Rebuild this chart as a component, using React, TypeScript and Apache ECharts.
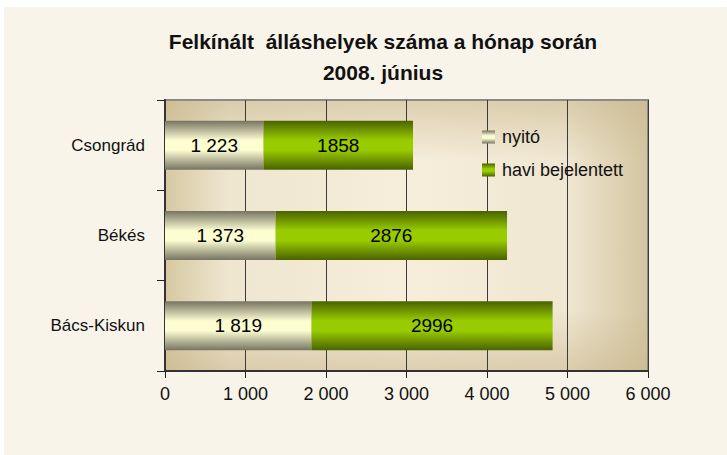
import React, { useEffect, useRef } from "react";
import * as echarts from "echarts";

const categories = ["Csongrád", "Békés", "Bács-Kiskun"];
const nyitoValues = [1223, 1373, 1819];
const haviValues = [1858, 2876, 2996];
const seriesNames = ["nyitó", "havi bejelentett"];
const titleLines = ["Felkínált  álláshelyek száma a hónap során", "2008. június"];
const xMin = 0;
const xMax = 6000;
const xInterval = 1000;

const FONT = "'Liberation Sans', Arial, sans-serif";

const W = 727;
const H = 455;
const GRID = { left: 165, top: 100, right: 79, bottom: 84 };

function spaced(v: number): string {
  return String(v).replace(/\B(?=(\d{3})+(?!\d))/g, " ");
}

export default function App() {
  const ref = useRef<HTMLDivElement>(null);
  useEffect(() => {
    if (!ref.current) return;
    const chart = echarts.init(ref.current, null, { renderer: "svg" });
    const gw = W - GRID.left - GRID.right;
    const gh = H - GRID.top - GRID.bottom;
    const grayGrad = new echarts.graphic.LinearGradient(0, 0, 0, 1, [
      { offset: 0, color: "#767462" },
      { offset: 0.4, color: "#fdfdd2" },
      { offset: 0.6, color: "#fdfdd2" },
      { offset: 1, color: "#767462" },
    ]);
    const greenGrad = new echarts.graphic.LinearGradient(0, 0, 0, 1, [
      { offset: 0, color: "#4a6200" },
      { offset: 0.4, color: "#99cc00" },
      { offset: 0.6, color: "#99cc00" },
      { offset: 1, color: "#4a6200" },
    ]);
    chart.setOption({
      animation: false,
      backgroundColor: "#ffffff",
      textStyle: { fontFamily: FONT },
      title: {
        text: titleLines.join("\n"),
        left: 383,
        top: 26,
        padding: 0,
        textAlign: "center",
        textStyle: {
          fontFamily: FONT,
          fontSize: 21,
          fontWeight: "bold",
          color: "#111",
          lineHeight: 31,
        },
      },
      graphic: [
        {
          type: "rect",
          z: -10,
          shape: { x: 4, y: 7, width: W, height: H },
          style: { fill: "#f8f4e9" },
          silent: true,
        },
        {
          type: "rect",
          z: -9,
          shape: { x: GRID.left, y: GRID.top, width: gw, height: gh },
          style: {
            fill: new echarts.graphic.LinearGradient(0, 0, 1, 0, [
              { offset: 0, color: "#d6c8a2" },
              { offset: 0.13, color: "#efe6d0" },
              { offset: 0.5, color: "#f6eddb" },
              { offset: 0.83, color: "#f0e7d2" },
              { offset: 1, color: "#d2c59f" },
            ]),
          },
          silent: true,
        },
        {
          type: "rect",
          z: -8,
          shape: { x: GRID.left, y: GRID.top, width: gw, height: gh },
          style: {
            fill: new echarts.graphic.LinearGradient(0, 0, 0, 1, [
              { offset: 0, color: "rgba(200,182,140,0.55)" },
              { offset: 0.22, color: "rgba(200,182,140,0)" },
              { offset: 0.78, color: "rgba(200,182,140,0)" },
              { offset: 1, color: "rgba(200,182,140,0.55)" },
            ]),
          },
          silent: true,
        },
      ],
      grid: {
        left: GRID.left,
        top: GRID.top,
        right: GRID.right,
        bottom: GRID.bottom,
        show: true,
        backgroundColor: "transparent",
        borderColor: "#8a8a8a",
        borderWidth: 2,
      },
      legend: {
        orient: "vertical",
        left: 482,
        top: 128,
        padding: 0,
        itemWidth: 13,
        itemHeight: 13,
        itemGap: 15,
        icon: "rect",
        textStyle: { fontFamily: FONT, fontSize: 18, color: "#111", padding: [0, 0, 0, 2] },
        data: seriesNames,
      },
      xAxis: {
        type: "value",
        min: xMin,
        max: xMax,
        interval: xInterval,
        axisLine: { show: true, lineStyle: { color: "#333", width: 2 } },
        axisTick: { show: true, length: 7, lineStyle: { color: "#222" } },
        axisLabel: {
          fontFamily: FONT,
          fontSize: 18,
          color: "#111",
          margin: 14,
          formatter: (v: number) => spaced(v),
        },
        splitLine: { show: true, lineStyle: { color: "#3a3a3a", width: 1 } },
      },
      yAxis: {
        type: "category",
        inverse: true,
        data: categories,
        axisLine: { show: true, lineStyle: { color: "#333", width: 2 } },
        axisTick: { show: true, length: 8, lineStyle: { color: "#222" } },
        axisLabel: { fontFamily: FONT, fontSize: 17, color: "#111", margin: 20 },
        splitLine: { show: false },
      },
      series: [
        {
          name: seriesNames[0],
          type: "bar",
          stack: "total",
          barWidth: 49,
          data: nyitoValues,
          itemStyle: { color: grayGrad },
          label: {
            show: true,
            position: "inside",
            fontFamily: FONT,
            fontSize: 19,
            color: "#000",
            formatter: (p: any) => spaced(p.value),
          },
        },
        {
          name: seriesNames[1],
          type: "bar",
          stack: "total",
          barWidth: 49,
          data: haviValues,
          itemStyle: { color: greenGrad },
          label: {
            show: true,
            position: "inside",
            fontFamily: FONT,
            fontSize: 19,
            color: "#000",
            formatter: (p: any) => String(p.value),
          },
        },
      ],
    });
    return () => chart.dispose();
  }, []);
  return (
    <div
      ref={ref}
      style={{ position: "absolute", left: 0, top: 0, width: W, height: H }}
    />
  );
}
